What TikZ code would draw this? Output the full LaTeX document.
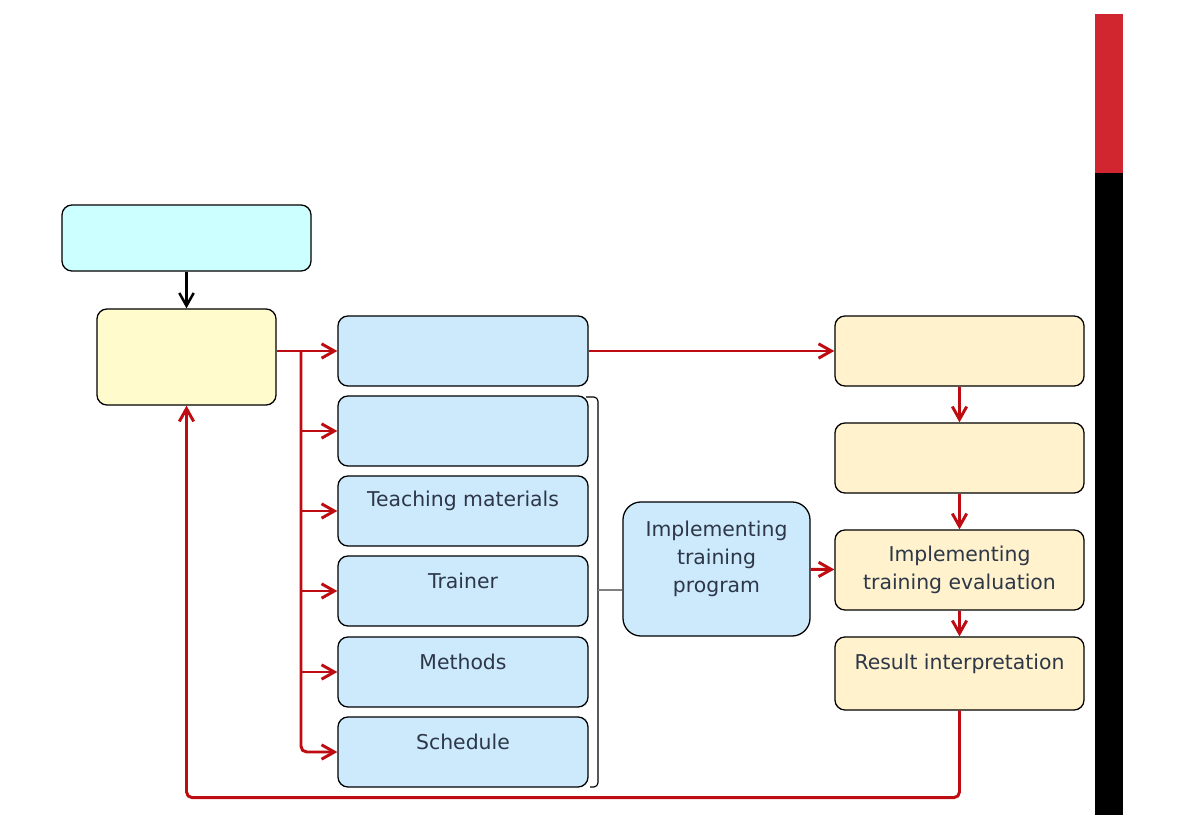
\documentclass[tikz,border=0pt]{standalone}
\usepackage{fontspec}
\setmainfont{DejaVu Sans}
\usetikzlibrary{arrows.meta}
\usetikzlibrary{calc}

\definecolor{cyanfill}{RGB}{204,255,255}
\definecolor{lemonfill}{RGB}{255,251,204}
\definecolor{bluefill}{RGB}{204,234,252}
\definecolor{creamfill}{RGB}{255,242,204}
\definecolor{arrowred}{RGB}{190,12,18}
\definecolor{barred}{RGB}{209,38,48}
\definecolor{boxgray}{RGB}{45,55,72}

\begin{document}
\begin{tikzpicture}[x=0.025cm, y=-0.025cm,
  panel/.style={draw=black, line width=.9pt, rounded corners=.25cm, inner sep=0pt,
    font=\fontsize{14.5}{20}\selectfont, text=boxgray, align=center},
  bluebox/.style={panel, fill=bluefill, minimum width=6.25cm, minimum height=1.75cm},
  creambox/.style={panel, fill=creamfill, minimum width=6.225cm, minimum height=#1},
  boxtext/.style={label={[yshift=7pt, font=\fontsize{14.5}{20}\selectfont, text=boxgray, align=center]center:#1}},
  flow/.style={draw=arrowred, line width=2.1pt, ->},
  >={Straight Barb[length=3.2mm, width=3.6mm]}]

\useasboundingbox (0,0) rectangle (1180,834);

\node[panel, fill=cyanfill, minimum width=6.225cm, minimum height=1.65cm] (cy) at (186.5,238) {};
\node[panel, fill=lemonfill, minimum width=4.475cm, minimum height=2.4cm] (yb) at (186.5,357) {};

\node[bluebox] (b1) at (463,351) {};
\node[bluebox] (b2) at (463,431) {};
\node[bluebox, boxtext=Teaching materials] (tm) at (463,511) {};
\node[bluebox, boxtext=Trainer] (tr) at (463,591) {};
\node[bluebox, boxtext=Methods] (me) at (463,672) {};
\node[bluebox, boxtext=Schedule] (sc) at (463,752) {};

\node[panel, fill=bluefill, rounded corners=.45cm, minimum width=4.675cm, minimum height=3.35cm,
  boxtext={Implementing\\training\\program}] (itp) at (716.5,569) {};

\node[creambox=1.75cm] (ca) at (959.5,351) {};
\node[creambox=1.75cm] (cb) at (959.5,458) {};
\node[creambox=2cm] (ie) at (959.5,570) {Implementing\\training evaluation};
\node[creambox=1.825cm, boxtext=Result interpretation] (ri) at (959.5,673.5) {};

\draw[->, line width=1.8pt] (cy) -- (yb);

\draw[flow] (yb.east |- b1) -- (b1);
\coordinate (trunk) at (301,351);
\foreach \b in {b2,tm,tr,me}
  \draw[flow] (trunk |- \b) -- (\b);
\draw[flow, rounded corners=4pt] (trunk) |- (sc);

\draw[flow] (b1) -- (ca);
\draw[flow] (ca) -- (cb);
\draw[flow] (cb) -- (ie);
\draw[flow] (itp) -- (ie);
\draw[flow] (ie) -- (ri);
\draw[flow, rounded corners=4pt] (ri.south) -- ++(0,87) -| (yb.south);

%% bracket round the stacked boxes
\draw[line width=.8pt, rounded corners=3pt] (586,397) -| (598,787) -- (590,787);
\coordinate (brk) at (598,590);
\draw[gray, line width=.8pt] (brk) -- (brk -| itp.west);

%% side bar
\fill[barred] (1095,14) rectangle (1123,173);
\fill[black] (1095,173) rectangle (1123,815);
\end{tikzpicture}
\end{document}
